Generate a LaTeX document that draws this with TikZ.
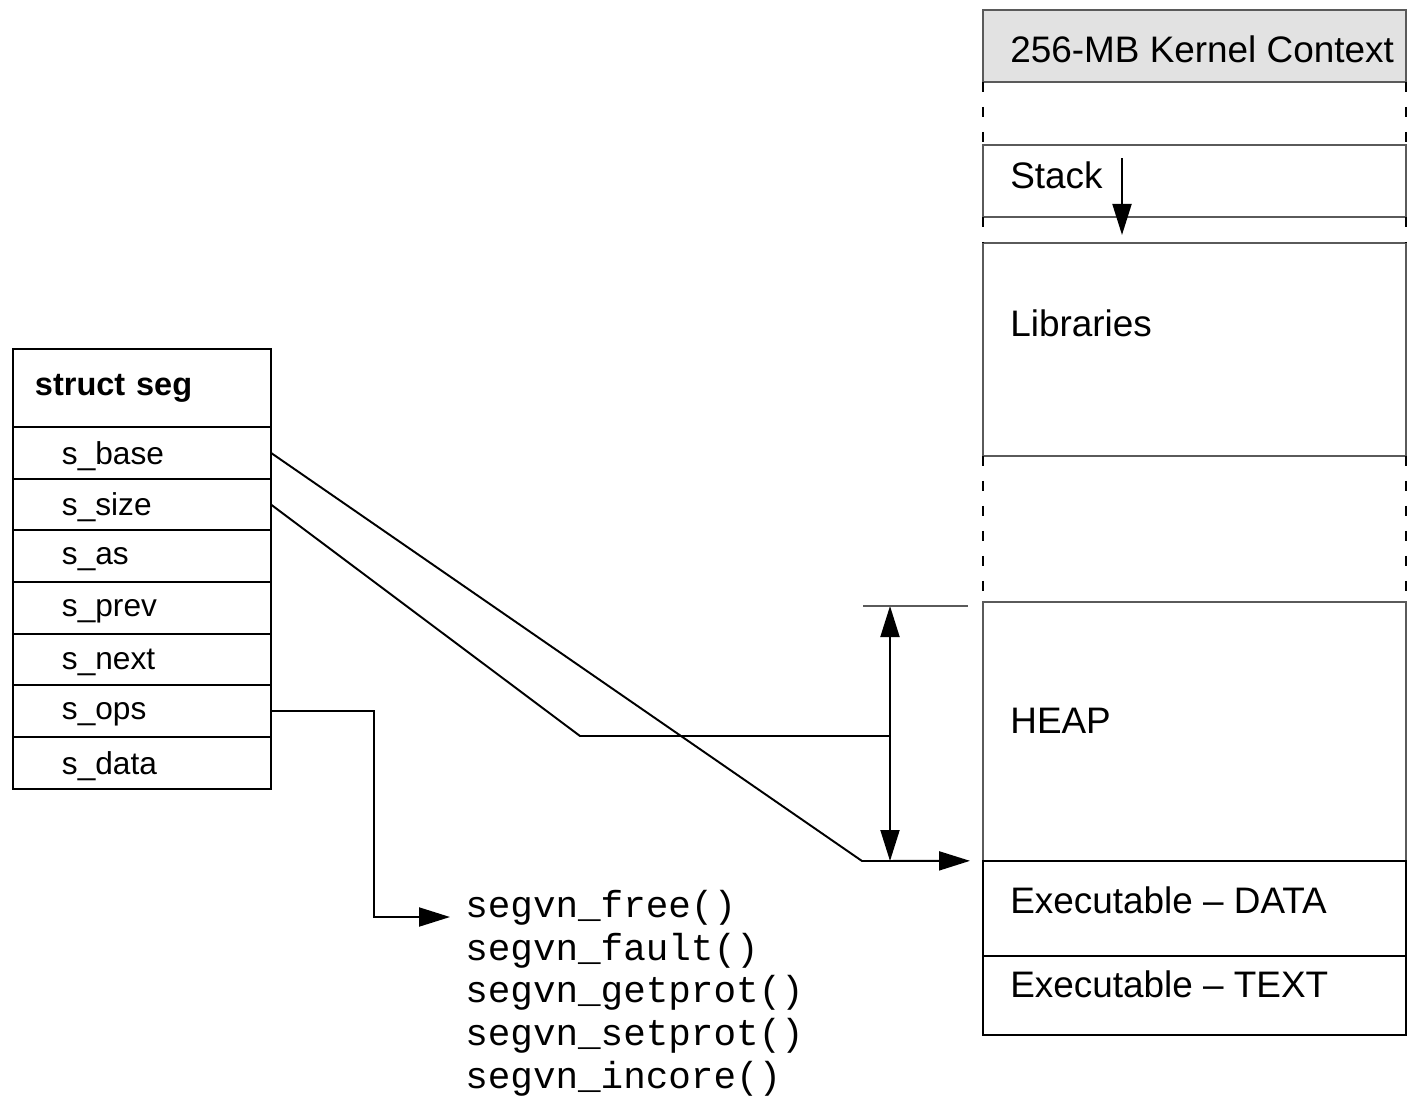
\documentclass[tikz,border=0pt]{standalone}
\usepackage{fontspec}
\setmainfont{Liberation Sans}
\setmonofont{Liberation Mono}
\usetikzlibrary{positioning,arrows.meta}
\definecolor{kernel-gray}{HTML}{E2E2E2}
\definecolor{edge-gray}{HTML}{5A5A5A}
\tikzset{
    seg-head/.style = {draw, rectangle, line width=1.2pt, outer sep=0pt, minimum height=1.56cm, text width=4.28cm, inner xsep=0.44cm, align=left, font=\fontsize{18.5}{22}\selectfont\bfseries},
    seg-field/.style = {draw, rectangle, line width=1.2pt, outer sep=0pt, minimum height=1.034cm, text width=3.2cm, inner xsep=0.98cm, inner ysep=0pt, text depth=0pt, align=left, font=\fontsize{18}{21}\selectfont},
    region/.style = {draw=edge-gray, rectangle, line width=1.2pt, outer sep=0pt, minimum width=8.46cm, anchor=north west, inner sep=0pt},
    region-text/.style = {anchor=base west, inner sep=0pt, font=\fontsize{21}{25}\selectfont},
    gap-side/.style = {draw=black, line width=1.2pt, dash pattern=on 0.2cm off 0.3cm},
    link/.style = {draw, line width=1.1pt},
    head-arrow/.style = {-{Triangle[length=0.62cm, width=0.38cm]}},
    both-arrows/.style = {{Triangle[length=0.62cm, width=0.38cm]}-{Triangle[length=0.62cm, width=0.38cm]}},
    op-name/.style = {anchor=base west, inner sep=0pt, font=\fontsize{21.4}{24}\selectfont\ttfamily},
}

\begin{document}
\begin{tikzpicture}[x=0.02cm, y=-0.02cm]
\useasboundingbox (0,0) rectangle (1410,1103);

% struct seg
\node[seg-head, anchor=north west] (seg) at (13,349) {struct seg};
\node[seg-field, below=0pt of seg] (base) {s\_base};
\node[seg-field, below=0pt of base] (size) {s\_size};
\node[seg-field, below=0pt of size] (as) {s\_as};
\node[seg-field, below=0pt of as] (prev) {s\_prev};
\node[seg-field, below=0pt of prev] (next) {s\_next};
\node[seg-field, below=0pt of next] (ops) {s\_ops};
\node[seg-field, below=0pt of ops] (data) {s\_data};

% address space
\node[region, fill=kernel-gray, minimum height=1.44cm] (kernel) at (983,10) {};
\node[region, minimum height=1.44cm, below=1.26cm of kernel] (stack) {};
\node[region, minimum height=4.26cm, below=0.52cm of stack] (libs) {};
\node[region, minimum height=5.18cm, below=2.92cm of libs] (heap) {};
\node[region, draw=black, minimum height=1.9cm, below=0pt of heap] (exec-data) {};
\node[region, draw=black, minimum height=1.58cm, below=0pt of exec-data] (exec-text) {};

\draw[gap-side] (kernel.south west) -- (stack.north west);
\draw[gap-side] (kernel.south east) -- (stack.north east);
\draw[gap-side] (stack.south west) -- (libs.north west);
\draw[gap-side] (stack.south east) -- (libs.north east);
\draw[gap-side] (libs.south west) -- (heap.north west);
\draw[gap-side] (libs.south east) -- (heap.north east);

\node[region-text] (kernel-label) at (1010,62) {256-MB Kernel Context};
\node[region-text] (stack-label) at (1010,188) {Stack};
\node[region-text] (libs-label) at (1010,336) {Libraries};
\node[region-text] (heap-label) at (1010,733) {HEAP};
\node[region-text] (data-label) at (1010,913) {Executable -- DATA};
\node[region-text] (text-label) at (1010,997) {Executable -- TEXT};

\coordinate (stack-grow) at (1122,158);
\draw[link, head-arrow] (stack-grow) -- ([yshift=0.16cm]stack-grow |- libs.north);

% segvn ops
\node[op-name] (free) at (465,917) {segvn\_free()};
\node[op-name] (fault) at ([yshift=-0.86cm]free.base west) {segvn\_fault()};
\node[op-name] (getprot) at ([yshift=-0.86cm]fault.base west) {segvn\_getprot()};
\node[op-name] (setprot) at ([yshift=-0.86cm]getprot.base west) {segvn\_setprot()};
\node[op-name] (incore) at ([yshift=-0.86cm]setprot.base west) {segvn\_incore()};

% connectors
\coordinate (base-bend) at (862,861);
\coordinate (size-bend) at (580,736);
\coordinate (heap-top) at (890,606);
\coordinate (heap-bottom) at (890,861);
\coordinate (tick-left) at (863,606);
\coordinate (tick-right) at (968,606);

\draw[link, head-arrow] (base.east) -- (base-bend) -- ([xshift=-0.26cm]heap.south west);
\draw[link] (size.east) -- (size-bend) -- (size-bend -| heap-top);
\draw[link, both-arrows] (heap-top) -- (heap-bottom);
\draw[link, draw=edge-gray] (tick-left) -- (tick-right);
\draw[link, head-arrow] (ops.east) -| ([xshift=-1.82cm]free.base west) -- ([xshift=-0.3cm]free.base west);
\end{tikzpicture}
\end{document}
